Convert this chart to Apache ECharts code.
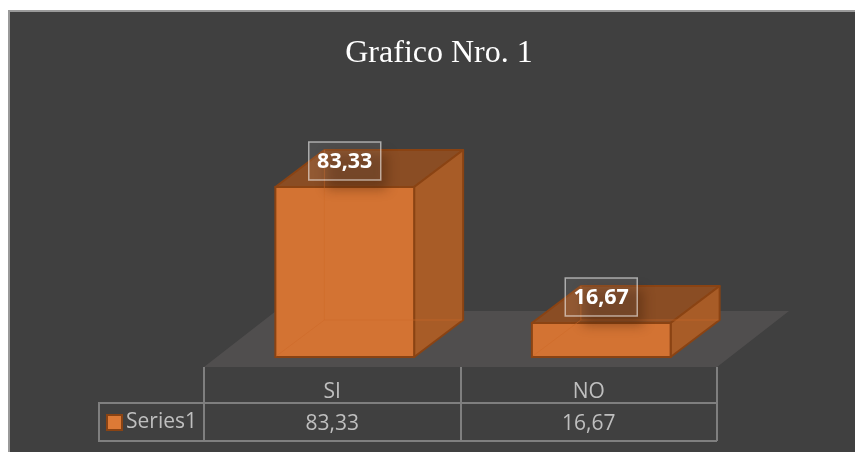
<!DOCTYPE html>
<html>
<head>
<meta charset="utf-8">
<title>Grafico Nro. 1</title>
<style>
  html, body { margin: 0; padding: 0; background: #fff; }
  #chart { width: 855px; height: 452px; }
</style>
</head>
<body>
<div id="chart"></div>
<script src="https://cdn.jsdelivr.net/npm/echarts@6/dist/echarts.min.js"></script>
<script>
const categories = ['SI', 'NO'];
const seriesName = 'Series1';
const seriesValues = [83.33, 16.67];

const tableFont = '"Open Sans", sans-serif';
const lineGray = '#7f7f7f';
// depth of the 3D box
const depthX = 49;
const depthY = 37;
const barShift = 12.5;

function comma(v) {
  return v.toFixed(2).replace('.', ',');
}

function renderFloor(params, api) {
  const left = params.coordSys.x;
  const right = left + params.coordSys.width;
  const front = params.coordSys.y + params.coordSys.height;
  return {
    type: 'polygon',
    shape: { points: [[left, front], [right, front], [right + 72, front - 56], [left + 72, front - 56]] },
    style: { fill: '#504e4e' },
    silent: true
  };
}

function renderBar(params, api) {
  const top = api.coord([api.value(0), api.value(1)]);
  const base = api.coord([api.value(0), 0]);
  const w = api.size([1, 0])[0] * 0.541;
  const x0 = top[0] - w / 2 + barShift;
  const x1 = x0 + w;
  const yt = top[1];
  const yb = base[1];
  const edge = '#8a4313';
  const midX = x0 + w / 2;
  return {
    type: 'group',
    children: [
      // top
      { type: 'polygon', shape: { points: [[x0, yt], [x1, yt], [x1 + depthX, yt - depthY], [x0 + depthX, yt - depthY]] },
        style: { fill: '#8a4d24', stroke: edge, lineWidth: 2, lineJoin: 'round' } },
      // right side
      { type: 'polygon', shape: { points: [[x1, yt], [x1 + depthX, yt - depthY], [x1 + depthX, yb - depthY], [x1, yb]] },
        style: { fill: '#a85c27', stroke: edge, lineWidth: 2, lineJoin: 'round' } },
      // front
      { type: 'rect', shape: { x: x0, y: yt, width: w, height: yb - yt },
        style: { fill: '#d37333', stroke: edge, lineWidth: 2 } },
      // hidden edges showing faintly through the box
      { type: 'polyline', shape: { points: [[x0 + depthX, yt - depthY], [x0 + depthX, yb - depthY], [x1 + depthX - 1, yb - depthY]] },
        style: { fill: 'none', stroke: 'rgba(205,105,40,0.55)', lineWidth: 1 } },
      { type: 'polyline', shape: { points: [[x0 + 1, yb - 1], [x0 + depthX, yb - depthY]] },
        style: { fill: 'none', stroke: 'rgba(205,105,40,0.55)', lineWidth: 1 } },
      // soft shadow under the data label, the rect itself sits off the canvas
      { type: 'rect', shape: { x: midX - 18 - 2000, y: yt - 34, width: 60, height: 36 },
        style: { fill: '#000', shadowBlur: 12, shadowOffsetX: 2000, shadowColor: 'rgba(60,28,8,0.4)' } },
      // data label box
      { type: 'rect', shape: { x: midX - 36, y: yt - 45, width: 72, height: 38 },
        style: { fill: 'rgba(255,255,255,0.07)', stroke: 'rgba(255,255,255,0.55)', lineWidth: 1.5 } },
      { type: 'text',
        style: { x: midX, y: yt - 25, text: comma(api.value(1)), align: 'center', verticalAlign: 'middle',
          fill: '#fff', font: 'bold 21.5px ' + tableFont } }
    ]
  };
}

const chart = echarts.init(document.getElementById('chart'), null, { renderer: 'canvas' });

chart.setOption({
  animation: false,
  backgroundColor: '#fff',
  title: {
    text: 'Grafico Nro. 1',
    left: 434,
    top: 33,
    textAlign: 'center',
    textStyle: { color: '#fff', fontFamily: '"Liberation Serif", serif', fontSize: 32, fontWeight: 'normal' }
  },
  legend: {
    data: [seriesName],
    left: 104,
    top: 410,
    itemWidth: 15,
    itemHeight: 15,
    itemGap: 4,
    icon: 'rect',
    padding: 2,
    selectedMode: false,
    textStyle: { color: '#bfbfbf', fontFamily: tableFont, fontSize: 21, padding: [0, 0, 4, -1] }
  },
  grid: { left: 204, right: 138, top: 153, height: 214 },
  xAxis: {
    type: 'category',
    data: categories,
    axisLine: { show: false, onZero: false },
    axisTick: { show: true, length: 74, lineStyle: { color: lineGray, width: 2 } },
    axisLabel: {
      margin: 9,
      color: '#bfbfbf',
      fontFamily: tableFont,
      fontSize: 21,
      lineHeight: 32,
      formatter: (v, i) => v + '\n' + comma(seriesValues[i])
    }
  },
  yAxis: { type: 'value', min: -4.9, max: 100, show: false },
  series: [
    { type: 'custom', silent: true, renderItem: renderFloor, data: [[0, 0]], z: 1, tooltip: { show: false } },
    {
      name: seriesName,
      type: 'custom',
      renderItem: renderBar,
      encode: { x: 0, y: 1 },
      data: categories.map((c, i) => [i, seriesValues[i]]),
      itemStyle: { color: '#dd7a36', borderColor: '#8a4313', borderWidth: 2 },
      z: 2
    }
  ],
  graphic: [
    { type: 'rect', z: -10, silent: true, shape: { x: 9, y: 11, width: 860, height: 460 },
      style: { fill: '#404040', stroke: '#9a9a9a', lineWidth: 2 } },
    { type: 'polyline', z: 0, silent: true,
      shape: { points: [[717, 403], [99, 403], [99, 441], [717, 441]] },
      style: { fill: 'none', stroke: lineGray, lineWidth: 2 } }
  ]
});
</script>
</body>
</html>
